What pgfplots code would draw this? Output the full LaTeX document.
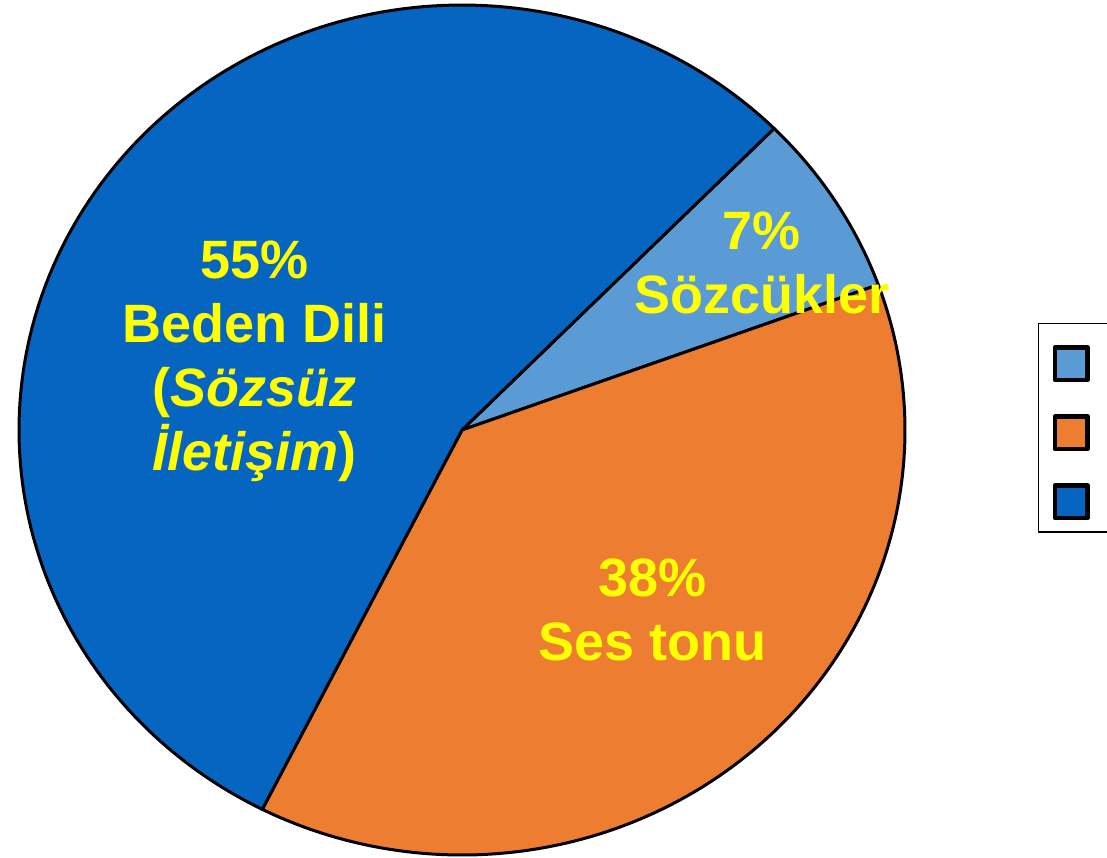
\documentclass[border=0pt]{standalone}
\usepackage{pgfplots}
\pgfplotsset{compat=1.18}
\usepackage{fontspec}
\setmainfont{Liberation Sans}
\definecolor{cLight}{HTML}{5B9BD5}
\definecolor{cOrange}{HTML}{ED7D31}
\definecolor{cBlue}{HTML}{0565C1}
\definecolor{cYellow}{HTML}{FFFF00}
% shares (%) : Sozcukler, Ses tonu, Beden Dili
\def\pA{7}\def\pB{38}\def\pC{55}
\pgfmathsetmacro{\aS}{45.2}
\pgfmathsetmacro{\aA}{\aS-\pA*3.6}
\pgfmathsetmacro{\aB}{\aA-\pB*3.6}
\pgfmathsetmacro{\aC}{\aB-\pC*3.6}
\begin{document}
\begin{tikzpicture}
\begin{axis}[
  scale only axis, width=443pt, height=425pt,
  xmin=-1, xmax=1, ymin=-1, ymax=1,
  hide axis, clip=false,
  legend style={at={(axis description cs:1.1501,0.6259)}, anchor=north west,
    draw=black, line width=0.75pt, inner xsep=7pt, inner ysep=5pt,
    row sep=9.8pt,
    /tikz/every odd column/.append style={column sep=20pt},
    font=\bfseries\fontsize{27}{32}\selectfont},
  legend cell align=left,
  legend image code/.code={\draw[#1,line width=2.2pt] (0pt,-10.6pt) rectangle (16.3pt,5.7pt);},
]
\addplot[fill=cLight, draw=black, line width=1.5pt, line join=round, data cs=polar, domain=\aA:\aS, samples=40] ({x},{1}) -- (axis cs:0,0) -- cycle;
\addlegendentry{Sözcükler}
\addplot[fill=cOrange, draw=black, line width=1.5pt, line join=round, data cs=polar, domain=\aB:\aA, samples=120] ({x},{1}) -- (axis cs:0,0) -- cycle;
\addlegendentry{Ses tonu}
\addplot[fill=cBlue, draw=black, line width=1.5pt, line join=round, data cs=polar, domain=\aC:\aB, samples=160] ({x},{1}) -- (axis cs:0,0) -- cycle;
\addlegendentry{Beden Dili}
\node[text=cYellow, align=center, font=\bfseries\fontsize{27}{32}\selectfont] at (axis cs:0.677,0.392) {\pA\%\\Sözcükler};
\node[text=cYellow, align=center, font=\bfseries\fontsize{27}{32}\selectfont] at (axis cs:0.429,-0.424) {\pB\%\\Ses tonu};
\node[text=cYellow, align=center, font=\bfseries\fontsize{27}{32}\selectfont] at (axis cs:-0.468,0.161) {\pC\%\\Beden Dili\\(\textit{Sözsüz}\\\textit{İletişim})};
\coordinate (bbl) at (axis cs:-1.0429,-1.0047);
\coordinate (btr) at (axis cs:1.4560,1.0118);
\end{axis}
\pgfresetboundingbox
\useasboundingbox (bbl) rectangle (btr);
\end{tikzpicture}
\end{document}
